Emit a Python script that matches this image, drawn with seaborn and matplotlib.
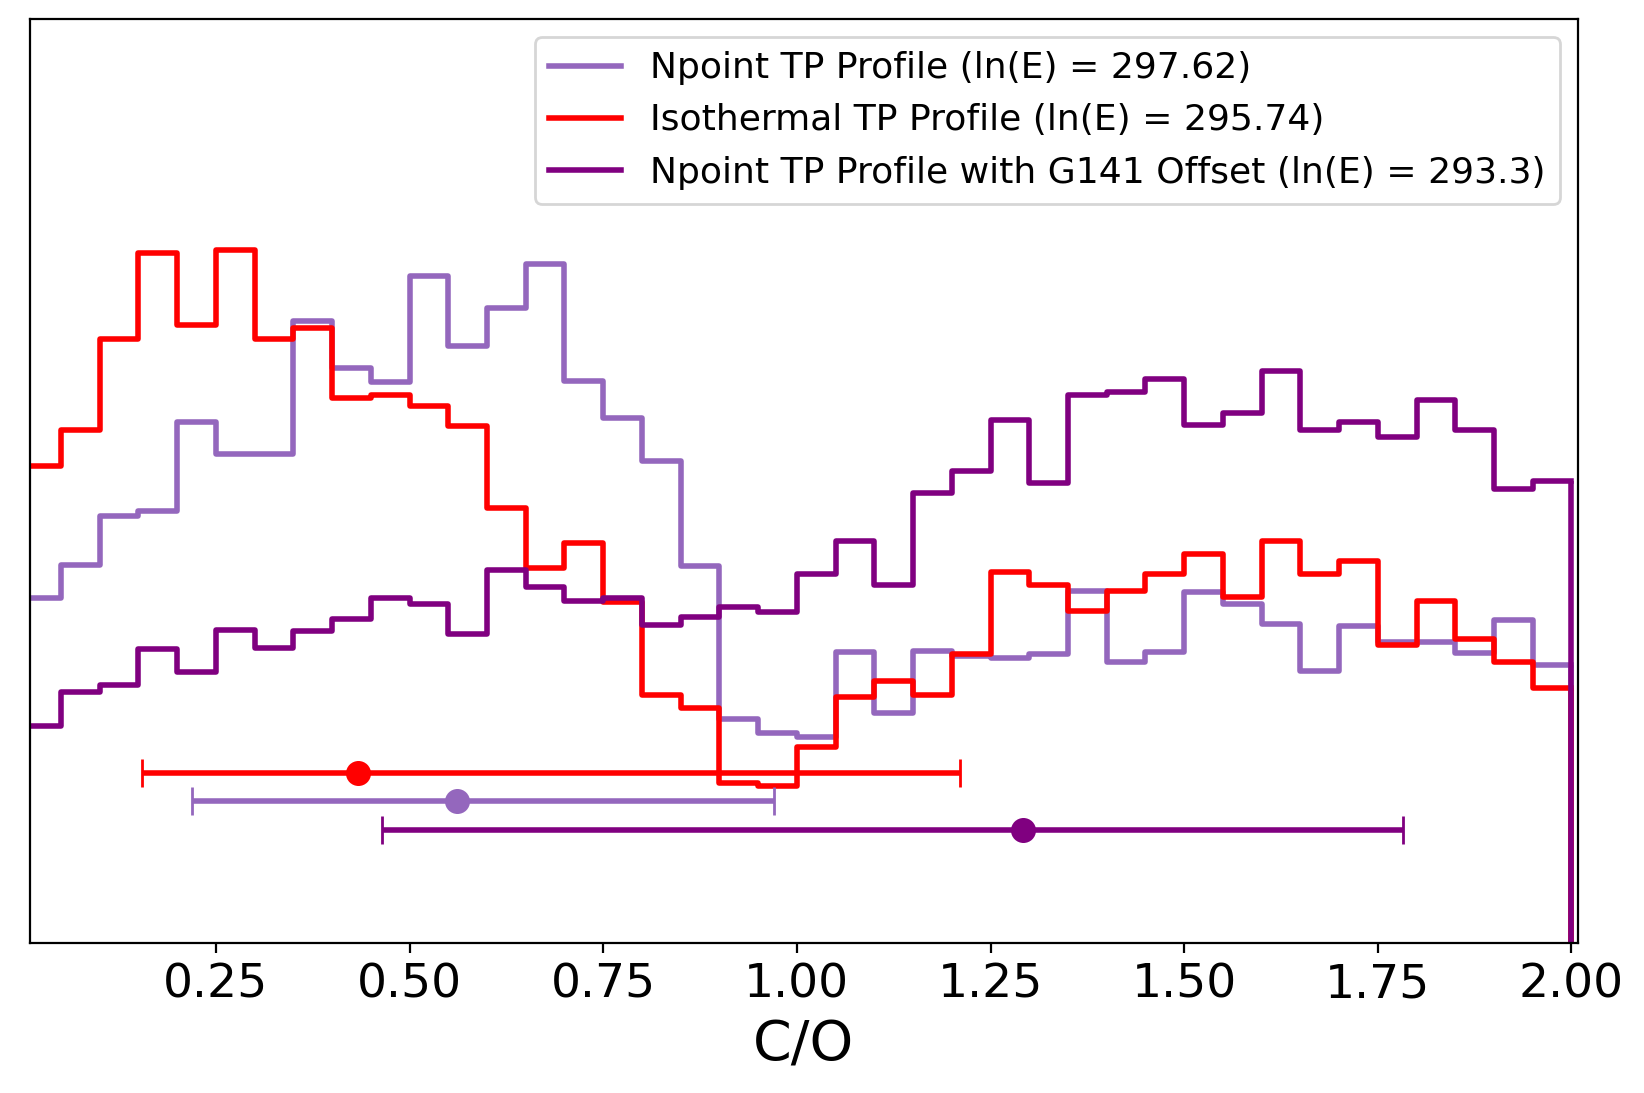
import numpy as np
import pandas as pd
import matplotlib
matplotlib.use("Agg")
import matplotlib.pyplot as plt
import seaborn as sns

# ---- data (bin heights, arbitrary units) ----
bin_edges = np.round(np.arange(0.0, 2.0001, 0.05), 2)

npoint_heights = [345, 378, 427, 432, 521, 489, 489, 622, 575, 561,
                  667, 597, 635, 679, 562, 525, 482, 377, 224, 210,
                  206, 291, 230, 292, 287, 285, 289, 352, 281, 291,
                  351, 339, 319, 272, 317, 301, 301, 290, 323, 278]
isothermal_heights = [477, 513, 604, 690, 618, 693, 604, 615, 545, 548,
                      537, 517, 435, 375, 400, 341, 248, 235, 160, 157,
                      196, 246, 262, 248, 289, 371, 358, 332, 352, 369,
                      389, 346, 402, 369, 382, 298, 342, 304, 281, 255]
offset_heights = [217, 251, 258, 294, 271, 313, 295, 312, 324, 345,
                  339, 309, 373, 356, 342, 345, 318, 326, 336, 331,
                  369, 402, 358, 450, 472, 523, 460, 548, 551, 564,
                  518, 530, 572, 513, 521, 506, 543, 513, 454, 462]

labels = ["Npoint TP Profile (ln(E) = 297.62)",
          "Isothermal TP Profile (ln(E) = 295.74)",
          "Npoint TP Profile with G141 Offset (ln(E) = 293.3)"]

# median and 1-sigma interval of C/O for each model
co_median = [0.5616, 0.4338, 1.2923]
co_low = [0.2195, 0.1549, 0.4648]
co_high = [0.9708, 1.2105, 1.7829]

# ---- style ----
colors = ["#9467bd", "red", "purple"]
errbar_levels = [141.7, 170.0, 112.7]

fig = plt.figure(figsize=(8.22, 5.465), dpi=200)
ax = fig.add_axes([0.0181, 0.1375, 0.9418, 0.8452])

centers = (bin_edges[:-1] + bin_edges[1:]) / 2
handles = []
for heights, color, label in zip([npoint_heights, isothermal_heights, offset_heights],
                                 colors, labels):
    df = pd.DataFrame({"C/O": centers, "w": heights})
    sns.histplot(data=df, x="C/O", weights="w",
                 binwidth=0.05, binrange=(float(bin_edges[0]), float(bin_edges[-1])),
                 element="step", fill=False, color=color, linewidth=2, ax=ax)
    line = ax.lines[-1]
    line.set_label(label)
    handles.append(line)
    # closing edges of the step outline down to zero
    ax.vlines([bin_edges[0]], 0, heights[0], color=color, linewidth=2)
    ax.vlines([bin_edges[-1]], 0, heights[-1], color=color, linewidth=2)

for med, lo, hi, color, yl in zip(co_median, co_low, co_high, colors, errbar_levels):
    ax.errorbar([med], [yl], xerr=[[med - lo], [hi - med]], fmt="o", color=color,
                ms=8, elinewidth=2, capsize=5)

ax.set_xlim(0.0097, 2.0085)
ax.set_ylim(0, 924)
ax.set_yticks([])
ax.set_ylabel("")
ax.set_xticks([0.25, 0.5, 0.75, 1.0, 1.25, 1.5, 1.75, 2.0])
ax.tick_params(axis="x", labelsize=17)
ax.set_xlabel("C/O", fontsize=20)
ax.legend(handles=handles, loc="upper right", fontsize=13)

fig.savefig("out.png", dpi=200)
